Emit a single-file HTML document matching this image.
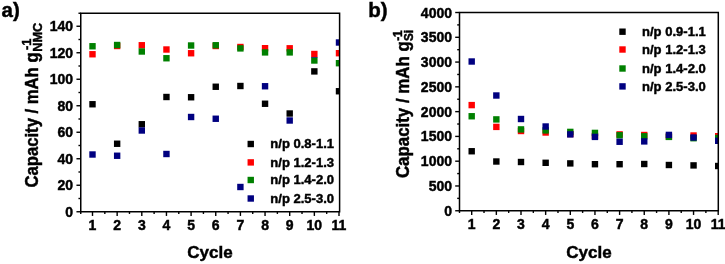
<!DOCTYPE html>
<html><head><meta charset="utf-8"><title>Capacity vs Cycle</title>
<style>
html,body{margin:0;padding:0;background:#fff;}
body{width:725px;height:264px;overflow:hidden;}
svg{display:block;filter:blur(0.35px);}
text{font-family:"Liberation Sans",Arial,sans-serif;font-weight:bold;fill:#000;stroke:#000;stroke-width:0.45px;}
.tk{font-size:14px;}
.ti{font-size:17px;}
.lg{font-size:13.05px;}
.pl{font-size:20.5px;}
.ss{font-size:13px;}
</style></head><body>
<svg width="725" height="264" viewBox="0 0 725 264">
<rect x="0" y="0" width="725" height="264" fill="#ffffff"/>

<g id="panel-a">
<clipPath id="clipa"><rect x="80.75" y="13.25" width="258.85" height="198.5"/></clipPath>
<g clip-path="url(#clipa)">
<rect x="89.30" y="101.05" width="6.4" height="6.4" fill="#000000"/>
<rect x="113.95" y="140.55" width="6.4" height="6.4" fill="#000000"/>
<rect x="138.60" y="121.05" width="6.4" height="6.4" fill="#000000"/>
<rect x="163.25" y="93.80" width="6.4" height="6.4" fill="#000000"/>
<rect x="187.90" y="94.05" width="6.4" height="6.4" fill="#000000"/>
<rect x="212.55" y="83.55" width="6.4" height="6.4" fill="#000000"/>
<rect x="237.20" y="82.80" width="6.4" height="6.4" fill="#000000"/>
<rect x="261.85" y="100.55" width="6.4" height="6.4" fill="#000000"/>
<rect x="286.50" y="110.30" width="6.4" height="6.4" fill="#000000"/>
<rect x="311.15" y="68.20" width="6.4" height="6.4" fill="#000000"/>
<rect x="335.80" y="88.05" width="6.4" height="6.4" fill="#000000"/>
<rect x="89.30" y="51.05" width="6.4" height="6.4" fill="#ff0000"/>
<rect x="113.95" y="42.80" width="6.4" height="6.4" fill="#ff0000"/>
<rect x="138.60" y="42.05" width="6.4" height="6.4" fill="#ff0000"/>
<rect x="163.25" y="46.30" width="6.4" height="6.4" fill="#ff0000"/>
<rect x="187.90" y="50.05" width="6.4" height="6.4" fill="#ff0000"/>
<rect x="212.55" y="42.80" width="6.4" height="6.4" fill="#ff0000"/>
<rect x="237.20" y="43.80" width="6.4" height="6.4" fill="#ff0000"/>
<rect x="261.85" y="45.00" width="6.4" height="6.4" fill="#ff0000"/>
<rect x="286.50" y="45.10" width="6.4" height="6.4" fill="#ff0000"/>
<rect x="311.15" y="50.80" width="6.4" height="6.4" fill="#ff0000"/>
<rect x="335.80" y="50.00" width="6.4" height="6.4" fill="#ff0000"/>
<rect x="89.30" y="43.05" width="6.4" height="6.4" fill="#008000"/>
<rect x="113.95" y="41.80" width="6.4" height="6.4" fill="#008000"/>
<rect x="138.60" y="48.30" width="6.4" height="6.4" fill="#008000"/>
<rect x="163.25" y="55.05" width="6.4" height="6.4" fill="#008000"/>
<rect x="187.90" y="42.30" width="6.4" height="6.4" fill="#008000"/>
<rect x="212.55" y="42.05" width="6.4" height="6.4" fill="#008000"/>
<rect x="237.20" y="45.20" width="6.4" height="6.4" fill="#008000"/>
<rect x="261.85" y="49.20" width="6.4" height="6.4" fill="#008000"/>
<rect x="286.50" y="49.20" width="6.4" height="6.4" fill="#008000"/>
<rect x="311.15" y="57.30" width="6.4" height="6.4" fill="#008000"/>
<rect x="335.80" y="60.00" width="6.4" height="6.4" fill="#008000"/>
<rect x="89.30" y="151.30" width="6.4" height="6.4" fill="#000080"/>
<rect x="113.95" y="152.55" width="6.4" height="6.4" fill="#000080"/>
<rect x="138.60" y="127.30" width="6.4" height="6.4" fill="#000080"/>
<rect x="163.25" y="150.80" width="6.4" height="6.4" fill="#000080"/>
<rect x="187.90" y="113.80" width="6.4" height="6.4" fill="#000080"/>
<rect x="212.55" y="115.55" width="6.4" height="6.4" fill="#000080"/>
<rect x="237.20" y="183.80" width="6.4" height="6.4" fill="#000080"/>
<rect x="261.85" y="83.05" width="6.4" height="6.4" fill="#000080"/>
<rect x="286.50" y="117.30" width="6.4" height="6.4" fill="#000080"/>
<rect x="335.80" y="39.30" width="6.4" height="6.4" fill="#000080"/>
</g>
<rect x="80.75" y="13.25" width="258.85" height="198.5" fill="none" stroke="#000" stroke-width="1.5"/>
<line x1="76.45" y1="211.75" x2="80.75" y2="211.75" stroke="#000" stroke-width="1.4"/>
<text class="tk" x="73" y="216.75" text-anchor="end">0</text>
<line x1="78.45" y1="198.50" x2="80.75" y2="198.50" stroke="#000" stroke-width="1.4"/>
<line x1="76.45" y1="185.25" x2="80.75" y2="185.25" stroke="#000" stroke-width="1.4"/>
<text class="tk" x="73" y="190.25" text-anchor="end">20</text>
<line x1="78.45" y1="172.00" x2="80.75" y2="172.00" stroke="#000" stroke-width="1.4"/>
<line x1="76.45" y1="158.75" x2="80.75" y2="158.75" stroke="#000" stroke-width="1.4"/>
<text class="tk" x="73" y="163.75" text-anchor="end">40</text>
<line x1="78.45" y1="145.50" x2="80.75" y2="145.50" stroke="#000" stroke-width="1.4"/>
<line x1="76.45" y1="132.25" x2="80.75" y2="132.25" stroke="#000" stroke-width="1.4"/>
<text class="tk" x="73" y="137.25" text-anchor="end">60</text>
<line x1="78.45" y1="119.00" x2="80.75" y2="119.00" stroke="#000" stroke-width="1.4"/>
<line x1="76.45" y1="105.75" x2="80.75" y2="105.75" stroke="#000" stroke-width="1.4"/>
<text class="tk" x="73" y="110.75" text-anchor="end">80</text>
<line x1="78.45" y1="92.50" x2="80.75" y2="92.50" stroke="#000" stroke-width="1.4"/>
<line x1="76.45" y1="79.25" x2="80.75" y2="79.25" stroke="#000" stroke-width="1.4"/>
<text class="tk" x="73" y="84.25" text-anchor="end">100</text>
<line x1="78.45" y1="66.00" x2="80.75" y2="66.00" stroke="#000" stroke-width="1.4"/>
<line x1="76.45" y1="52.75" x2="80.75" y2="52.75" stroke="#000" stroke-width="1.4"/>
<text class="tk" x="73" y="57.75" text-anchor="end">120</text>
<line x1="78.45" y1="39.50" x2="80.75" y2="39.50" stroke="#000" stroke-width="1.4"/>
<line x1="76.45" y1="26.25" x2="80.75" y2="26.25" stroke="#000" stroke-width="1.4"/>
<text class="tk" x="73" y="31.25" text-anchor="end">140</text>
<line x1="92.50" y1="211.75" x2="92.50" y2="215.95" stroke="#000" stroke-width="1.4"/>
<text class="tk" x="92.50" y="229.8" text-anchor="middle">1</text>
<line x1="104.83" y1="211.75" x2="104.83" y2="213.95" stroke="#000" stroke-width="1.4"/>
<line x1="117.15" y1="211.75" x2="117.15" y2="215.95" stroke="#000" stroke-width="1.4"/>
<text class="tk" x="117.15" y="229.8" text-anchor="middle">2</text>
<line x1="129.47" y1="211.75" x2="129.47" y2="213.95" stroke="#000" stroke-width="1.4"/>
<line x1="141.80" y1="211.75" x2="141.80" y2="215.95" stroke="#000" stroke-width="1.4"/>
<text class="tk" x="141.80" y="229.8" text-anchor="middle">3</text>
<line x1="154.12" y1="211.75" x2="154.12" y2="213.95" stroke="#000" stroke-width="1.4"/>
<line x1="166.45" y1="211.75" x2="166.45" y2="215.95" stroke="#000" stroke-width="1.4"/>
<text class="tk" x="166.45" y="229.8" text-anchor="middle">4</text>
<line x1="178.77" y1="211.75" x2="178.77" y2="213.95" stroke="#000" stroke-width="1.4"/>
<line x1="191.10" y1="211.75" x2="191.10" y2="215.95" stroke="#000" stroke-width="1.4"/>
<text class="tk" x="191.10" y="229.8" text-anchor="middle">5</text>
<line x1="203.42" y1="211.75" x2="203.42" y2="213.95" stroke="#000" stroke-width="1.4"/>
<line x1="215.75" y1="211.75" x2="215.75" y2="215.95" stroke="#000" stroke-width="1.4"/>
<text class="tk" x="215.75" y="229.8" text-anchor="middle">6</text>
<line x1="228.07" y1="211.75" x2="228.07" y2="213.95" stroke="#000" stroke-width="1.4"/>
<line x1="240.40" y1="211.75" x2="240.40" y2="215.95" stroke="#000" stroke-width="1.4"/>
<text class="tk" x="240.40" y="229.8" text-anchor="middle">7</text>
<line x1="252.72" y1="211.75" x2="252.72" y2="213.95" stroke="#000" stroke-width="1.4"/>
<line x1="265.05" y1="211.75" x2="265.05" y2="215.95" stroke="#000" stroke-width="1.4"/>
<text class="tk" x="265.05" y="229.8" text-anchor="middle">8</text>
<line x1="277.37" y1="211.75" x2="277.37" y2="213.95" stroke="#000" stroke-width="1.4"/>
<line x1="289.70" y1="211.75" x2="289.70" y2="215.95" stroke="#000" stroke-width="1.4"/>
<text class="tk" x="289.70" y="229.8" text-anchor="middle">9</text>
<line x1="302.02" y1="211.75" x2="302.02" y2="213.95" stroke="#000" stroke-width="1.4"/>
<line x1="314.35" y1="211.75" x2="314.35" y2="215.95" stroke="#000" stroke-width="1.4"/>
<text class="tk" x="314.35" y="229.8" text-anchor="middle">10</text>
<line x1="326.68" y1="211.75" x2="326.68" y2="213.95" stroke="#000" stroke-width="1.4"/>
<line x1="339.00" y1="211.75" x2="339.00" y2="215.95" stroke="#000" stroke-width="1.4"/>
<text class="tk" x="339.00" y="229.8" text-anchor="middle">11</text>
<line x1="80.75" y1="211.75" x2="80.75" y2="213.95" stroke="#000" stroke-width="1.4"/>
<line x1="78.45" y1="13.25" x2="80.75" y2="13.25" stroke="#000" stroke-width="1.4"/>
<rect x="311.15" y="56.95" width="6.4" height="0.6" fill="#000080"/>
<text class="ti" x="210" y="258" text-anchor="middle">Cycle</text>
<g transform="translate(38,187.5) rotate(-90) scale(0.98,1.03)"><text class="ti" x="0" y="0">Capacity / mAh g</text><text x="140.4" y="-7" font-size="13">-1</text><text x="138.5" y="4.2" font-size="13">NMC</text></g>
<text class="pl" x="1.5" y="16.6">a)</text>
<rect x="247.55" y="140.80" width="6.4" height="6.4" fill="#000000"/>
<text class="lg" x="270.3" y="148.10">n/p 0.8-1.1</text>
<rect x="247.55" y="159.20" width="6.4" height="6.4" fill="#ff0000"/>
<text class="lg" x="270.3" y="166.50">n/p 1.2-1.3</text>
<rect x="247.55" y="176.80" width="6.4" height="6.4" fill="#008000"/>
<text class="lg" x="270.3" y="184.10">n/p 1.4-2.0</text>
<rect x="247.55" y="195.30" width="6.4" height="6.4" fill="#000080"/>
<text class="lg" x="270.3" y="202.60">n/p 2.5-3.0</text>
</g>
<g id="panel-b">
<clipPath id="clipb"><rect x="459.5" y="12.5" width="258.79999999999995" height="198.25"/></clipPath>
<g clip-path="url(#clipb)">
<rect x="468.50" y="148.05" width="6.4" height="6.4" fill="#000000"/>
<rect x="493.15" y="158.30" width="6.4" height="6.4" fill="#000000"/>
<rect x="517.80" y="158.80" width="6.4" height="6.4" fill="#000000"/>
<rect x="542.45" y="159.60" width="6.4" height="6.4" fill="#000000"/>
<rect x="567.10" y="160.20" width="6.4" height="6.4" fill="#000000"/>
<rect x="591.75" y="161.00" width="6.4" height="6.4" fill="#000000"/>
<rect x="616.40" y="161.00" width="6.4" height="6.4" fill="#000000"/>
<rect x="641.05" y="160.80" width="6.4" height="6.4" fill="#000000"/>
<rect x="665.70" y="161.80" width="6.4" height="6.4" fill="#000000"/>
<rect x="690.35" y="162.20" width="6.4" height="6.4" fill="#000000"/>
<rect x="715.00" y="162.80" width="6.4" height="6.4" fill="#000000"/>
<rect x="468.50" y="101.90" width="6.4" height="6.4" fill="#ff0000"/>
<rect x="493.15" y="123.70" width="6.4" height="6.4" fill="#ff0000"/>
<rect x="517.80" y="127.80" width="6.4" height="6.4" fill="#ff0000"/>
<rect x="542.45" y="129.30" width="6.4" height="6.4" fill="#ff0000"/>
<rect x="567.10" y="130.80" width="6.4" height="6.4" fill="#ff0000"/>
<rect x="591.75" y="132.80" width="6.4" height="6.4" fill="#ff0000"/>
<rect x="616.40" y="131.20" width="6.4" height="6.4" fill="#ff0000"/>
<rect x="641.05" y="131.80" width="6.4" height="6.4" fill="#ff0000"/>
<rect x="665.70" y="133.30" width="6.4" height="6.4" fill="#ff0000"/>
<rect x="690.35" y="132.30" width="6.4" height="6.4" fill="#ff0000"/>
<rect x="715.00" y="133.00" width="6.4" height="6.4" fill="#ff0000"/>
<rect x="468.50" y="113.05" width="6.4" height="6.4" fill="#008000"/>
<rect x="493.15" y="116.20" width="6.4" height="6.4" fill="#008000"/>
<rect x="517.80" y="126.20" width="6.4" height="6.4" fill="#008000"/>
<rect x="542.45" y="127.20" width="6.4" height="6.4" fill="#008000"/>
<rect x="567.10" y="128.70" width="6.4" height="6.4" fill="#008000"/>
<rect x="591.75" y="129.70" width="6.4" height="6.4" fill="#008000"/>
<rect x="616.40" y="132.05" width="6.4" height="6.4" fill="#008000"/>
<rect x="641.05" y="133.10" width="6.4" height="6.4" fill="#008000"/>
<rect x="665.70" y="133.70" width="6.4" height="6.4" fill="#008000"/>
<rect x="690.35" y="135.00" width="6.4" height="6.4" fill="#008000"/>
<rect x="715.00" y="134.80" width="6.4" height="6.4" fill="#008000"/>
<rect x="468.50" y="58.30" width="6.4" height="6.4" fill="#000080"/>
<rect x="493.15" y="92.30" width="6.4" height="6.4" fill="#000080"/>
<rect x="517.80" y="115.80" width="6.4" height="6.4" fill="#000080"/>
<rect x="542.45" y="123.30" width="6.4" height="6.4" fill="#000080"/>
<rect x="567.10" y="131.20" width="6.4" height="6.4" fill="#000080"/>
<rect x="591.75" y="133.70" width="6.4" height="6.4" fill="#000080"/>
<rect x="616.40" y="138.55" width="6.4" height="6.4" fill="#000080"/>
<rect x="641.05" y="138.20" width="6.4" height="6.4" fill="#000080"/>
<rect x="665.70" y="131.70" width="6.4" height="6.4" fill="#000080"/>
<rect x="690.35" y="134.30" width="6.4" height="6.4" fill="#000080"/>
<rect x="715.00" y="137.60" width="6.4" height="6.4" fill="#000080"/>
</g>
<rect x="459.5" y="12.5" width="258.79999999999995" height="198.25" fill="none" stroke="#000" stroke-width="1.5"/>
<line x1="455.2" y1="210.75" x2="459.5" y2="210.75" stroke="#000" stroke-width="1.4"/>
<text class="tk" x="452" y="215.75" text-anchor="end">0</text>
<line x1="457.2" y1="198.36" x2="459.5" y2="198.36" stroke="#000" stroke-width="1.4"/>
<line x1="455.2" y1="185.97" x2="459.5" y2="185.97" stroke="#000" stroke-width="1.4"/>
<text class="tk" x="452" y="190.97" text-anchor="end">500</text>
<line x1="457.2" y1="173.58" x2="459.5" y2="173.58" stroke="#000" stroke-width="1.4"/>
<line x1="455.2" y1="161.19" x2="459.5" y2="161.19" stroke="#000" stroke-width="1.4"/>
<text class="tk" x="452" y="166.19" text-anchor="end">1000</text>
<line x1="457.2" y1="148.80" x2="459.5" y2="148.80" stroke="#000" stroke-width="1.4"/>
<line x1="455.2" y1="136.41" x2="459.5" y2="136.41" stroke="#000" stroke-width="1.4"/>
<text class="tk" x="452" y="141.41" text-anchor="end">1500</text>
<line x1="457.2" y1="124.02" x2="459.5" y2="124.02" stroke="#000" stroke-width="1.4"/>
<line x1="455.2" y1="111.63" x2="459.5" y2="111.63" stroke="#000" stroke-width="1.4"/>
<text class="tk" x="452" y="116.63" text-anchor="end">2000</text>
<line x1="457.2" y1="99.24" x2="459.5" y2="99.24" stroke="#000" stroke-width="1.4"/>
<line x1="455.2" y1="86.85" x2="459.5" y2="86.85" stroke="#000" stroke-width="1.4"/>
<text class="tk" x="452" y="91.85" text-anchor="end">2500</text>
<line x1="457.2" y1="74.46" x2="459.5" y2="74.46" stroke="#000" stroke-width="1.4"/>
<line x1="455.2" y1="62.07" x2="459.5" y2="62.07" stroke="#000" stroke-width="1.4"/>
<text class="tk" x="452" y="67.07" text-anchor="end">3000</text>
<line x1="457.2" y1="49.68" x2="459.5" y2="49.68" stroke="#000" stroke-width="1.4"/>
<line x1="455.2" y1="37.29" x2="459.5" y2="37.29" stroke="#000" stroke-width="1.4"/>
<text class="tk" x="452" y="42.29" text-anchor="end">3500</text>
<line x1="457.2" y1="24.90" x2="459.5" y2="24.90" stroke="#000" stroke-width="1.4"/>
<line x1="455.2" y1="12.51" x2="459.5" y2="12.51" stroke="#000" stroke-width="1.4"/>
<text class="tk" x="452" y="17.51" text-anchor="end">4000</text>
<line x1="471.70" y1="210.75" x2="471.70" y2="214.95" stroke="#000" stroke-width="1.4"/>
<text class="tk" x="471.70" y="228.8" text-anchor="middle">1</text>
<line x1="484.02" y1="210.75" x2="484.02" y2="212.95" stroke="#000" stroke-width="1.4"/>
<line x1="496.35" y1="210.75" x2="496.35" y2="214.95" stroke="#000" stroke-width="1.4"/>
<text class="tk" x="496.35" y="228.8" text-anchor="middle">2</text>
<line x1="508.67" y1="210.75" x2="508.67" y2="212.95" stroke="#000" stroke-width="1.4"/>
<line x1="521.00" y1="210.75" x2="521.00" y2="214.95" stroke="#000" stroke-width="1.4"/>
<text class="tk" x="521.00" y="228.8" text-anchor="middle">3</text>
<line x1="533.33" y1="210.75" x2="533.33" y2="212.95" stroke="#000" stroke-width="1.4"/>
<line x1="545.65" y1="210.75" x2="545.65" y2="214.95" stroke="#000" stroke-width="1.4"/>
<text class="tk" x="545.65" y="228.8" text-anchor="middle">4</text>
<line x1="557.98" y1="210.75" x2="557.98" y2="212.95" stroke="#000" stroke-width="1.4"/>
<line x1="570.30" y1="210.75" x2="570.30" y2="214.95" stroke="#000" stroke-width="1.4"/>
<text class="tk" x="570.30" y="228.8" text-anchor="middle">5</text>
<line x1="582.62" y1="210.75" x2="582.62" y2="212.95" stroke="#000" stroke-width="1.4"/>
<line x1="594.95" y1="210.75" x2="594.95" y2="214.95" stroke="#000" stroke-width="1.4"/>
<text class="tk" x="594.95" y="228.8" text-anchor="middle">6</text>
<line x1="607.28" y1="210.75" x2="607.28" y2="212.95" stroke="#000" stroke-width="1.4"/>
<line x1="619.60" y1="210.75" x2="619.60" y2="214.95" stroke="#000" stroke-width="1.4"/>
<text class="tk" x="619.60" y="228.8" text-anchor="middle">7</text>
<line x1="631.92" y1="210.75" x2="631.92" y2="212.95" stroke="#000" stroke-width="1.4"/>
<line x1="644.25" y1="210.75" x2="644.25" y2="214.95" stroke="#000" stroke-width="1.4"/>
<text class="tk" x="644.25" y="228.8" text-anchor="middle">8</text>
<line x1="656.58" y1="210.75" x2="656.58" y2="212.95" stroke="#000" stroke-width="1.4"/>
<line x1="668.90" y1="210.75" x2="668.90" y2="214.95" stroke="#000" stroke-width="1.4"/>
<text class="tk" x="668.90" y="228.8" text-anchor="middle">9</text>
<line x1="681.23" y1="210.75" x2="681.23" y2="212.95" stroke="#000" stroke-width="1.4"/>
<line x1="693.55" y1="210.75" x2="693.55" y2="214.95" stroke="#000" stroke-width="1.4"/>
<text class="tk" x="693.55" y="228.8" text-anchor="middle">10</text>
<line x1="705.88" y1="210.75" x2="705.88" y2="212.95" stroke="#000" stroke-width="1.4"/>
<line x1="718.20" y1="210.75" x2="718.20" y2="214.95" stroke="#000" stroke-width="1.4"/>
<text class="tk" x="718.20" y="228.8" text-anchor="middle">11</text>
<line x1="459.5" y1="210.75" x2="459.5" y2="212.95" stroke="#000" stroke-width="1.4"/>
<text class="ti" x="589" y="257.6" text-anchor="middle">Cycle</text>
<g transform="translate(408.6,178.1) rotate(-90) scale(0.993,1.03)"><text class="ti" x="0" y="0">Capacity / mAh g</text><text x="138.2" y="-6.5" font-size="12">-1</text><text x="138.0" y="4.4" font-size="11.8">Si</text></g>
<text class="pl" x="368.3" y="17">b)</text>
<rect x="619.30" y="28.50" width="6.4" height="6.4" fill="#000000"/>
<text class="lg" x="642" y="35.80">n/p 0.9-1.1</text>
<rect x="619.30" y="46.30" width="6.4" height="6.4" fill="#ff0000"/>
<text class="lg" x="642" y="53.60">n/p 1.2-1.3</text>
<rect x="619.30" y="65.30" width="6.4" height="6.4" fill="#008000"/>
<text class="lg" x="642" y="72.60">n/p 1.4-2.0</text>
<rect x="619.30" y="83.20" width="6.4" height="6.4" fill="#000080"/>
<text class="lg" x="642" y="90.50">n/p 2.5-3.0</text>
</g>
</svg></body></html>
